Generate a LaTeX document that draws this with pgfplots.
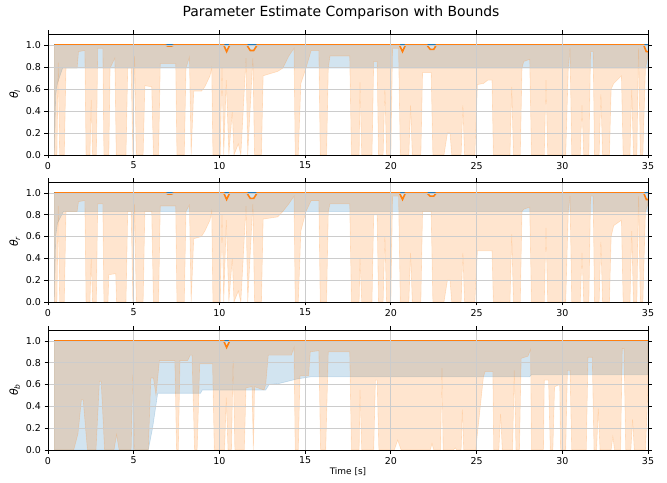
\documentclass[border=0pt]{standalone}
\usepackage{pgfplots}
\pgfplotsset{compat=1.18}
\usepackage{fontspec}
\setmainfont{DejaVu Sans}
\definecolor{C0}{HTML}{1F77B4}
\definecolor{C1}{HTML}{FF7F0E}
\pgfplotsset{
  panel/.style={
    scale only axis, width=600bp,
    xmin=0,xmax=35,ymin=0,ymax=1.1,
    xtick={0,5,...,35}, ytick={0,0.2,0.4,0.6,0.8,1.0},
    yticklabel style={/pgf/number format/.cd,fixed,fixed zerofill,precision=1},
    grid=major, major grid style={color=gray!40, line width=0.8bp},
    tick align=outside, major tick length=3.5bp,
    major tick style={black, line width=0.8bp},
    axis line style={line width=0.8bp},
    axis on top,
    tick label style={font=\fontsize{9.5}{11}\selectfont},
    /pgf/number format/assume math mode=true,
    ylabel style={font=\fontsize{11}{13}\selectfont, yshift=-1bp},
  },
  bfill/.style={fill=C0, fill opacity=0.2, draw=C0, draw opacity=0.2, line width=0.6bp},
  ofill/.style={fill=C1, fill opacity=0.2, draw=C1, draw opacity=0.2, line width=0.6bp},
}
\begin{document}
\begin{tikzpicture}
\path[use as bounding box] (0,0) rectangle (667bp,483bp);
\node[font=\fontsize{14}{16}\selectfont] at (341bp,470bp) {Parameter Estimate Comparison with Bounds};
% ---------------- Panel 1
\begin{axis}[panel, height=121bp, at={(48bp,328bp)}, anchor=south west,
  ylabel={\itshape θ\raisebox{-0.35ex}{\fontsize{7.5}{8}\selectfont l}}]
\addplot[bfill] table {
x y
0.37 0
0.45 0.55
0.55 0.65
0.85 0.79
35 0.79
35 1
0.37 1
} -- cycle;
\addplot[ofill] table {
x y
0.37 0
0.52 0
0.60 0.84
0.68 0
0.95 0
1.05 0.79
1.70 0.79
1.78 0.94
2.15 0.95
2.22 0
2.45 0
2.52 0.50
2.60 0
2.82 0
2.90 0.97
3.20 0.97
3.26 0
3.55 0
3.62 0.79
3.90 0.88
3.98 0
4.55 0
4.65 0.79
4.85 0.79
4.95 0
5.05 0.90
5.15 0
5.55 0
5.65 0.63
6.05 0.62
6.15 0
6.45 0
6.55 0.83
7.45 0.83
7.52 0
7.95 0
8.05 0.79
8.25 0.89
8.35 0
8.50 0.58
8.95 0.58
9.15 0.62
9.45 0.72
9.55 0.79
9.62 0
10.05 0
10.15 0.79
10.25 0
10.40 0.68
10.55 0
10.75 0.40
10.85 0
11.10 0.10
11.25 0
11.55 0.88
11.65 0
11.95 0.88
12.05 0
12.45 0
12.55 0.72
13.40 0.76
13.70 0.79
14.05 0.90
14.35 0.97
14.42 0
14.60 0
14.75 0.65
15.05 0.79
15.35 0.95
15.80 0.95
15.88 0
16.25 0
16.35 0.79
16.45 0.90
17.60 0.90
17.70 0
18.15 0
18.20 0.66
18.30 0
18.90 0
19.00 0.85
19.20 0.85
19.28 0
19.55 0
19.65 0.60
19.75 0
20.00 0
20.10 0.97
20.45 0.97
20.55 0
21.05 0
21.15 0.45
21.25 0
21.75 0
21.85 0.75
22.35 0.75
22.45 0
22.80 0
23.10 0
23.30 0.20
23.45 0.20
23.55 0
24.10 0
24.20 0.45
24.30 0
24.90 0
25.05 0.64
25.40 0.65
25.65 0.68
25.90 0.68
25.98 0
26.95 0
27.05 0.62
27.15 0
27.55 0
27.65 0.79
27.75 0.85
28.10 0.87
28.20 0
28.95 0
29.05 0.68
29.15 0
30.20 0
30.35 0.79
30.45 0.97
30.55 0
31.05 0
31.15 0.45
31.25 0
31.55 0
31.65 0.94
31.80 0.94
31.88 0
32.15 0
32.25 0.55
32.35 0
32.75 0
32.85 0.60
33.00 0.65
33.45 0.72
33.55 0
33.95 0
34.05 0.60
34.15 0
34.35 0
34.45 0.97
34.55 0
34.70 0
34.85 0.79
35.00 0.90
35 0.94
34.9 0.94
34.75 1
22.65 1
22.5 0.96
22.3 0.96
22.1 1
20.85 1
20.68 0.94
20.5 1
12.2 1
12.0 0.95
11.8 0.95
11.6 1
10.6 1
10.42 0.94
10.25 1
7.35 1
7.2 0.99
7.0 0.99
6.85 1
0.37 1
} -- cycle;
\addplot[C0, line width=1.6bp] coordinates {(0.37,1) (35,1)};
\addplot[C1, line width=1.6bp] table {
x y
0.37 1
6.85 1
7.0 0.99
7.2 0.99
7.35 1
10.25 1
10.42 0.94
10.6 1
11.6 1
11.8 0.95
12.0 0.95
12.2 1
20.5 1
20.68 0.94
20.85 1
22.1 1
22.3 0.96
22.5 0.96
22.65 1
34.75 1
34.9 0.94
35 0.94
};
\end{axis}
% ---------------- Panel 2
\begin{axis}[panel, height=120bp, at={(48bp,181bp)}, anchor=south west,
  ylabel={\itshape θ\raisebox{-0.35ex}{\fontsize{7.5}{8}\selectfont r}}]
\addplot[bfill] table {
x y
0.37 0
0.45 0.60
0.55 0.72
0.90 0.83
35 0.83
35 1
0.37 1
} -- cycle;
\addplot[ofill] table {
x y
0.37 0
0.52 0
0.60 0.88
0.68 0
0.95 0
1.05 0.83
1.70 0.83
1.78 0.92
2.15 0.93
2.22 0
2.45 0
2.52 0.40
2.60 0
2.82 0
2.90 0.90
3.20 0.90
3.26 0
3.50 0
3.55 0.25
3.95 0.26
4.00 0
4.55 0
4.65 0.83
4.85 0.83
4.95 0
5.05 0.90
5.15 0
5.55 0
5.65 0.83
6.05 0.83
6.15 0
6.45 0
6.55 0.88
7.45 0.88
7.52 0
7.95 0
8.05 0.83
8.25 0.89
8.35 0
8.50 0.58
8.95 0.60
9.15 0.65
9.45 0.75
9.55 0.83
9.62 0
10.05 0
10.15 0.80
10.25 0
10.40 0.75
10.55 0
10.75 0.40
10.85 0
11.10 0.10
11.25 0
11.55 0.88
11.65 0
11.95 0.90
12.05 0
12.45 0
12.55 0.76
13.40 0.78
13.70 0.83
14.05 0.90
14.35 0.97
14.42 0
14.60 0
14.75 0.65
15.05 0.83
15.35 0.93
15.80 0.93
15.88 0
16.25 0
16.35 0.83
16.45 0.90
17.60 0.90
17.70 0
18.15 0
18.20 0.40
18.30 0
18.90 0
19.00 0.80
19.20 0.80
19.28 0
19.55 0
19.65 0.60
19.75 0
20.00 0
20.10 0.97
20.45 0.97
20.55 0
21.05 0
21.15 0.45
21.25 0
21.75 0
21.85 0.83
22.35 0.83
22.45 0
22.80 0
23.10 0
23.30 0.20
23.45 0.20
23.55 0
24.10 0
24.20 0.45
24.30 0
24.90 0
25.05 0.47
25.90 0.47
25.98 0
26.95 0
27.05 0.62
27.15 0
27.55 0
27.65 0.83
27.75 0.85
28.10 0.87
28.20 0
28.95 0
29.05 0.68
29.15 0
30.20 0
30.35 0.83
30.45 0.97
30.55 0
31.05 0
31.15 0.45
31.25 0
31.55 0
31.65 0.97
31.80 0.97
31.88 0
32.15 0
32.25 0.55
32.35 0
32.75 0
32.85 0.60
33.00 0.70
33.45 0.75
33.55 0
33.95 0
34.05 0.65
34.15 0
34.35 0
34.45 0.97
34.55 0
34.70 0
34.85 0.83
35.00 0.90
35 0.94
34.9 0.94
34.75 1
22.65 1
22.5 0.97
22.3 0.97
22.1 1
20.85 1
20.68 0.94
20.5 1
12.2 1
12.0 0.95
11.8 0.95
11.6 1
10.6 1
10.42 0.94
10.25 1
7.35 1
7.2 0.99
7.0 0.99
6.85 1
0.37 1
} -- cycle;
\addplot[C0, line width=1.6bp] coordinates {(0.37,1) (35,1)};
\addplot[C1, line width=1.6bp] table {
x y
0.37 1
6.85 1
7.0 0.99
7.2 0.99
7.35 1
10.25 1
10.42 0.94
10.6 1
11.6 1
11.8 0.95
12.0 0.95
12.2 1
20.5 1
20.68 0.94
20.85 1
22.1 1
22.3 0.97
22.5 0.97
22.65 1
34.75 1
34.9 0.94
35 0.94
};
\end{axis}
% ---------------- Panel 3
\begin{axis}[panel, height=120bp, at={(48bp,33bp)}, anchor=south west,
  ylabel={\itshape θ\raisebox{-0.35ex}{\fontsize{7.5}{8}\selectfont b}},
  xlabel={Time [s]}, xlabel style={font=\fontsize{9}{10}\selectfont, yshift=3bp}]
\addplot[bfill] table {
x y
0.37 0
5.85 0
6.10 0.20
6.40 0.52
8.90 0.52
9.00 0.55
12.70 0.55
12.90 0.60
13.50 0.61
14.00 0.63
14.50 0.65
14.90 0.66
15.30 0.67
28.10 0.67
28.20 0.69
35 0.69
35 1
0.37 1
} -- cycle;
\addplot[ofill] table {
x y
0.37 0
1.50 0
1.75 0.15
1.95 0.46
2.05 0.46
2.30 0
2.80 0
3.00 0.63
3.10 0.63
3.30 0
3.85 0
4.00 0.14
4.15 0
4.85 0
4.95 0.69
5.05 0
5.85 0
6.00 0.66
6.15 0.66
6.30 0.50
6.50 0.82
7.40 0.82
7.50 0
7.60 0
7.70 0.82
8.15 0.82
8.30 0.87
8.40 0.87
8.55 0
8.70 0
8.85 0.79
9.60 0.79
9.70 0
10.30 0
10.40 0.48
10.50 0
10.70 0
10.80 0.82
10.90 0
11.45 0
11.55 0.57
11.90 0.58
11.98 0
12.05 0.58
12.60 0.55
12.70 0.60
12.85 0.87
14.20 0.87
14.35 0.94
14.42 0
14.60 0
14.70 0.68
15.20 0.68
15.30 0.90
15.80 0.91
15.90 0
16.20 0
16.35 0.90
17.60 0.90
17.70 0
18.15 0
18.20 0.55
18.30 0
19.00 0
19.10 0.64
19.20 0.64
19.30 0
20.20 0
20.40 0.09
20.60 0
22.30 0
22.40 0.06
22.50 0
22.90 0
22.98 0.75
23.05 0
23.65 0
23.75 0.02
23.85 0
24.10 0
24.17 0.37
24.25 0
24.95 0
25.40 0.67
25.50 0.72
25.95 0.72
26.00 0
26.30 0
26.40 0.33
26.50 0
27.10 0
27.20 0.73
27.30 0
27.50 0
27.60 0.84
28.00 0.86
28.15 0.92
28.20 0
28.90 0
28.95 0.64
29.20 0.64
29.30 0
29.45 0
29.55 0.58
29.85 0.60
29.90 0
30.20 0
30.30 0.73
30.45 0.73
30.55 0
31.40 0
31.50 0.85
31.75 0.85
31.85 0
32.00 0
32.10 0.38
32.20 0
32.85 0
32.95 0.12
33.05 0
33.40 0
33.50 0.93
33.60 0.93
33.70 0
34.00 0
34.10 0.28
34.20 0
34.85 0
35.00 0.55
35 1
10.6 1
10.42 0.94
10.25 1
0.37 1
} -- cycle;
\addplot[C0, line width=1.6bp] coordinates {(0.37,1) (35,1)};
\addplot[C1, line width=1.6bp] table {
x y
0.37 1
10.25 1
10.42 0.94
10.6 1
35 1
};
\end{axis}
\end{tikzpicture}
\end{document}
